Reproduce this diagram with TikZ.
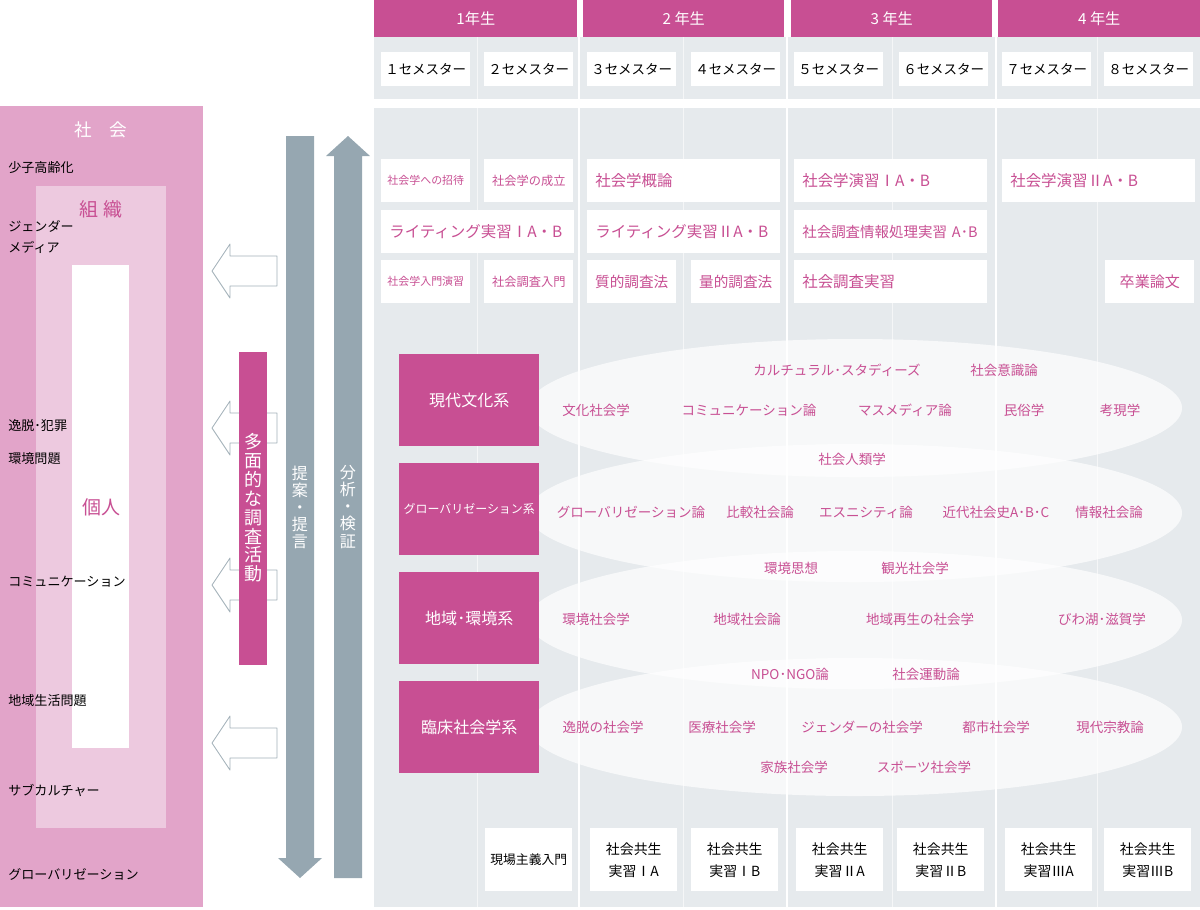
\documentclass[tikz,border=0pt]{standalone}
\usepackage{fontspec}
\setmainfont{Noto Sans CJK JP}
\definecolor{mag}{HTML}{C84F93}
\definecolor{pinkout}{HTML}{E2A4C9}
\definecolor{pinkmid}{HTML}{EDC9DF}
\definecolor{band}{HTML}{E6EAED}
\definecolor{slate}{HTML}{96A7B1}
\definecolor{edge}{HTML}{A3B1B9}
\begin{document}
\begin{tikzpicture}[x=0.025cm, y=-0.025cm, line join=round,
	pxbox/.style 2 args={inner sep=0pt, anchor=north west, minimum width=#1*0.025cm, minimum height=#2*0.025cm},
	year/.style={pxbox={#1}{37}, fill=mag, text=white, font=\fontsize{10.8}{12}\selectfont},
	sem/.style={pxbox={89}{34}, fill=white, font=\fontsize{9.6}{11}\selectfont},
	course/.style={pxbox={89}{43}, fill=white, text=mag},
	wide/.style={pxbox={193}{43}, fill=white, text=mag, text width=4.425cm, align=left, inner xsep=0.2cm, font=\fontsize{11}{13}\selectfont},
	cat/.style={pxbox={140}{92}, fill=mag, text=white},
	topic/.style={text=mag, inner sep=1pt, font=\fontsize{9.6}{11}\selectfont},
	side/.style={anchor=west, inner sep=0pt, font=\fontsize{9.3}{11}\selectfont},
	field/.style={pxbox={87}{63}, fill=white, align=center, font=\fontsize{9.9}{15.6}\selectfont},
	vert/.style={align=center, text=white, inner sep=0pt},
	hollow/.style={fill=white, draw=edge, line width=0.6pt}]
	\useasboundingbox (0,0) rectangle (1200,909);
	\fill[pinkout] (0,106) rectangle (203,907);
	\fill[pinkmid] (36,186) rectangle (166,828);
	\fill[white] (72,265) rectangle (129,748);
	\node[text=white, font=\fontsize{12.5}{14}\selectfont] (society) at (101,130) {社　会};
	\node[text=mag, font=\fontsize{13.5}{15}\selectfont] (org) at (101,209) {組 織};
	\node[text=mag, font=\fontsize{13.5}{15}\selectfont] (person) at (101,507) {個人};
	\foreach \y/\t [count=\i] in {168/少子高齢化, 226/ジェンダー, 247/メディア, 426/逸脱･犯罪, 459/環境問題, 582/コミュニケーション, 701/地域生活問題, 790/サブカルチャー, 874/グローバリゼーション}
		\node[side] (issue\i) at (8,\y) {\t};
	\foreach \y in {271,428,585,743}
		\draw[hollow] (212,\y) -- (230,\y-27) -- (230,\y-15) -- (277,\y-15) -- (277,\y+15) -- (230,\y+15) -- (230,\y+27) -- cycle;
	\fill[mag] (239,352) rectangle (267,665);
	\node[vert, font=\fontsize{12.8}{13.4}\selectfont] (survey) at (253,508) {多\\面\\的\\な\\調\\査\\活\\動};
	\fill[slate] (286,136) -- (314,136) -- (314,858) -- (322,858) -- (300,878) -- (278,858) -- (286,858) -- cycle;
	\fill[slate] (334,878) -- (362,878) -- (362,156) -- (370,156) -- (348,136) -- (326,156) -- (334,156) -- cycle;
	\node[vert, font=\fontsize{11.4}{12.1}\selectfont] (propose) at (300,507) {提\\案\\・\\提\\言};
	\node[vert, font=\fontsize{11.4}{12.1}\selectfont] (analyse) at (348,507) {分\\析\\・\\検\\証};
	\foreach \x/\w/\t [count=\i] in {374/203/1年生, 583/201/2 年生, 791/201/3 年生, 998/202/4 年生}
		\node[year=\w] (year\i) at (\x,0) {\t};
	\fill[band] (374,37) rectangle (1200,99);
	\fill[band] (374,108) rectangle (1200,907);
	\foreach \x in {579,787,996}
		\draw[white, line width=0.8pt] (\x,37) -- (\x,907);
	\foreach \x in {477,683,892,1097}
		\draw[white, opacity=0.6, line width=0.6pt] (\x,37) -- (\x,907);
	\foreach \x/\s [count=\i] in {381/１, 484/２, 587/３, 691/４, 794/５, 899/６, 1002/７, 1104/８}
		\node[sem] (sem\i) at (\x,52) {\s{}セメスター};
	\node[course, font=\fontsize{7.8}{9}\selectfont] (invite) at (381,159) {社会学への招待};
	\node[course, font=\fontsize{8.7}{10}\selectfont] (origin) at (484,159) {社会学の成立};
	\node[wide] (general) at (587,159) {社会学概論};
	\node[wide] (writing1) at (381,210) {ライティング実習ⅠA・B};
	\node[wide] (writing2) at (587,210) {ライティング実習ⅡA・B};
	\node[course, font=\fontsize{7.8}{9}\selectfont] (seminar0) at (381,260) {社会学入門演習};
	\node[course, font=\fontsize{8.7}{10}\selectfont] (research0) at (484,260) {社会調査入門};
	\node[course, font=\fontsize{10.4}{12}\selectfont] (quali) at (587,260) {質的調査法};
	\node[course, font=\fontsize{10.4}{12}\selectfont] (quanti) at (691,260) {量的調査法};
	\node[wide] (seminar1) at (794,159) {社会学演習ⅠA・B};
	\node[wide, font=\fontsize{10.3}{12}\selectfont] (dataproc) at (794,210) {社会調査情報処理実習 A･B};
	\node[wide] (practice) at (794,260) {社会調査実習};
	\node[wide] (seminar2) at (1002,159) {社会学演習ⅡA・B};
	\node[course, font=\fontsize{10.7}{12}\selectfont] (thesis) at (1105,260) {卒業論文};
	\foreach \y in {408,513,620,727}
		\fill[white, fill opacity=0.7] (855,\y) ellipse [x radius=327, y radius=69];
	\foreach \y/\f/\t [count=\i] in {354/11.4/現代文化系, 463/8.5/グローバリゼーション系, 572/11.4/地域･環境系, 681/11.4/臨床社会学系}
		\node[cat, font=\fontsize{\f}{13}\selectfont] (cat\i) at (399,\y) {\t};
	\foreach \x/\y/\t [count=\i] in {837/370/カルチュラル･スタディーズ, 1004/370/社会意識論, 596/410/文化社会学, 749/410/コミュニケーション論, 905/410/マスメディア論, 1024/410/民俗学, 1120/410/考現学, 852/459/社会人類学, 631/512/グローバリゼーション論, 760/512/比較社会論, 866/512/エスニシティ論, 996/512/近代社会史A･B･C, 1109/512/情報社会論, 791/568/環境思想, 915/568/観光社会学, 596/619/環境社会学, 747/619/地域社会論, 920/619/地域再生の社会学, 1102/619/びわ湖･滋賀学, 790/674/NPO･NGO論, 926/674/社会運動論, 603/727/逸脱の社会学, 722/727/医療社会学, 862/727/ジェンダーの社会学, 996/727/都市社会学, 1110/727/現代宗教論, 794/767/家族社会学, 924/767/スポーツ社会学}
		\node[topic] (topic\i) at (\x,\y) {\t};
	\node[field, font=\fontsize{9.1}{11}\selectfont] (fieldwork) at (485,828) {現場主義入門};
	\foreach \x/\t [count=\i] in {590/ⅠA, 691/ⅠB, 796/ⅡA, 897/ⅡB, 1005/ⅢA, 1104/ⅢB}
		\node[field] (field\i) at (\x,828) {社会共生\\実習\t};
\end{tikzpicture}
\end{document}
